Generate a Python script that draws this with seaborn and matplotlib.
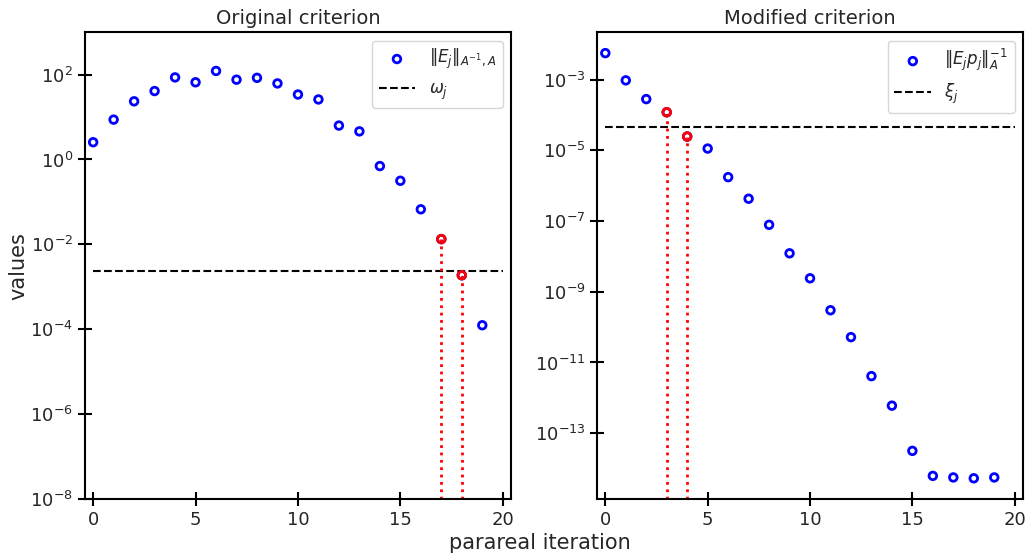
import numpy as np
import pandas as pd
import matplotlib
matplotlib.use("Agg")
import matplotlib.pyplot as plt
import seaborn as sns

iters = list(range(20))
orig_vals = [2.55, 8.7, 23.5, 41, 86, 66, 122, 76, 84, 62, 34, 26, 6.3, 4.6,
             0.70, 0.315, 0.067, 0.0133, 0.00187, 1.24e-4]
orig_thresh = 0.0024
orig_hit = [17, 18]

mod_vals = [5.6e-3, 9.5e-4, 2.8e-4, 1.19e-4, 2.45e-5, 1.12e-5, 1.74e-6, 4.27e-7,
            7.8e-8, 1.22e-8, 2.4e-9, 3.0e-10, 5.2e-11, 4.1e-12, 6.0e-13,
            3.16e-14, 6.2e-15, 5.6e-15, 5.3e-15, 5.6e-15]
mod_thresh = 4.5e-5
mod_hit = [3, 4]

thresh_x = list(range(21))

sns.set_style("ticks")
plt.rcParams['font.family'] = ['DejaVu Sans']
plt.rcParams['mathtext.fontset'] = 'dejavusans'

fig = plt.figure(figsize=(10.26, 5.55), dpi=100)
ax1 = fig.add_axes([0.0828, 0.101, 0.4152, 0.841])
ax2 = fig.add_axes([0.582, 0.101, 0.415, 0.841])

panels = [
    (ax1, orig_vals, orig_thresh, orig_hit, "Original criterion",
     r'$\|E_j\|_{A^{-1},A}$', r'$\omega_j$', (1e-8, 1e3)),
    (ax2, mod_vals, mod_thresh, mod_hit, "Modified criterion",
     r'$\|E_j p_j\|_A^{-1}$', r'$\xi_j$', (10**-14.86, 10**-1.66)),
]

for ax, vals, thr, hit, title, lab, tlab, ylim in panels:
    df = pd.DataFrame({"it": iters, "val": vals})
    sns.scatterplot(data=df, x="it", y="val", ax=ax, marker='o', s=30,
                    facecolors='none', edgecolor='blue', linewidth=2,
                    label=lab, zorder=3)
    sns.lineplot(x=thresh_x, y=[thr] * len(thresh_x), ax=ax, color='black',
                 linestyle='--', linewidth=1.5, label=tlab, zorder=2)
    ax.set_yscale('log')
    ax.set_ylim(*ylim)
    for h in hit:
        ax.vlines(h, ylim[0], vals[h], colors='red', linestyles=':',
                  linewidth=2, zorder=2)
    dfh = df.iloc[hit]
    sns.scatterplot(data=dfh, x="it", y="val", ax=ax, marker='o', s=30,
                    facecolors='none', edgecolor='red', linewidth=2,
                    zorder=4, legend=False)
    ax.set_xlim(-0.4, 20.4)
    ax.set_xticks([0, 5, 10, 15, 20])
    ax.minorticks_off()
    ax.set_title(title, fontsize=14)
    ax.set_xlabel("")
    ax.set_ylabel("")
    ax.tick_params(axis='both', which='major', direction='inout', length=10,
                   width=1.5, labelsize=13, color='black')
    for sp in ax.spines.values():
        sp.set_color('black')
        sp.set_linewidth(1.5)
    ax.legend(loc='upper right', fontsize=12, handlelength=2.2)

ax1.set_yticks([1e2, 1e0, 1e-2, 1e-4, 1e-6, 1e-8])
ax2.set_yticks([1e-3, 1e-5, 1e-7, 1e-9, 1e-11, 1e-13])
ax1.minorticks_off()
ax2.minorticks_off()

fig.text(0.526, 0.004, "parareal iteration", ha='center', va='bottom', fontsize=15)
fig.text(0.008, 0.52, "values", rotation=90, va='center', fontsize=15)

fig.savefig("out.png", dpi=100)
